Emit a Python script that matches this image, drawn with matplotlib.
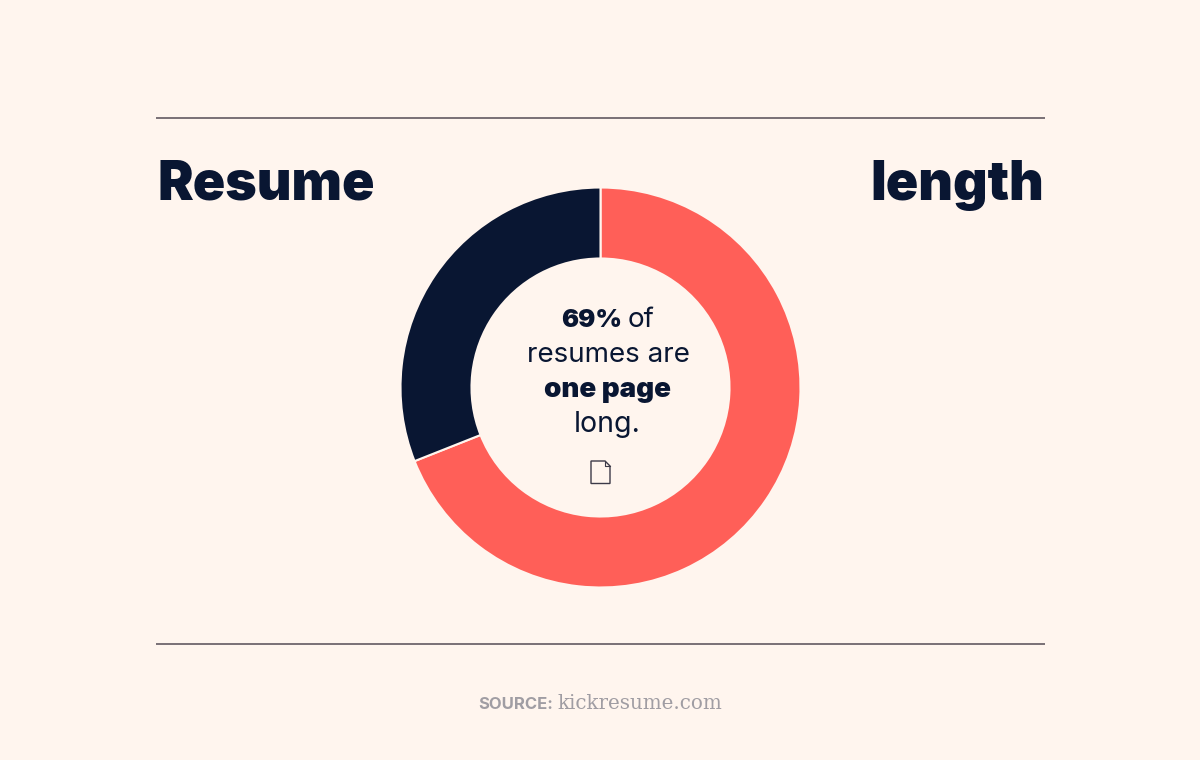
import matplotlib
matplotlib.use("Agg")
import matplotlib.pyplot as plt
from matplotlib.patches import Polygon
from matplotlib.lines import Line2D

BG = "#FFF5EE"
NAVY = "#091632"
CORAL = "#FF5F58"
GREY = "#A09DA3"

values = [69, 31]
colors = [CORAL, NAVY]
title_left = "Resume"
title_right = "length"
source_label = "SOURCE:"
source_text = "kickresume.com"

fig = plt.figure(figsize=(12, 7.6), dpi=100, facecolor=BG)
W, H = 1200, 760
ov = fig.add_axes([0, 0, 1, 1])
ov.set_xlim(0, W); ov.set_ylim(H, 0); ov.axis("off")

for y in (118, 644):
    ov.add_line(Line2D([156, 1045], [y, y], color="#6E666C", lw=1.3, solid_capstyle="butt"))

ov.text(157, 200, title_left, fontsize=38.6, fontweight=900, family="Inter", color=NAVY,
        ha="left", va="baseline")
ov.text(1044, 200, title_right, fontsize=38.6, fontweight=900, family="Inter", color=NAVY,
        ha="right", va="baseline")

size = 400
ax = fig.add_axes([(600.5 - size/2)/W, 1 - (387.5 + size/2)/H, size/W, size/H])
ax.pie(values, colors=colors, startangle=90, counterclock=False, radius=1,
       wedgeprops=dict(width=0.355, edgecolor=BG, linewidth=1.5))
ax.set_xlim(-1, 1); ax.set_ylim(-1, 1)

fs = 20
ov.text(561, 327, "69%", fontsize=18.3, fontweight=900, family="Inter", color=NAVY, va="baseline", ha="left")
ov.text(628, 327, "of", fontsize=fs, family="Inter", color=NAVY, va="baseline", ha="left")
ov.text(608, 362, "resumes are", fontsize=fs, family="Inter", color=NAVY, va="baseline", ha="center")
ov.text(608, 397, "one page", fontsize=fs, fontweight=900, family="Inter", color=NAVY, va="baseline", ha="center")
ov.text(607.5, 432, "long.", fontsize=20.5, family="Inter", color=NAVY, va="baseline", ha="center")

ov.add_patch(Polygon([[591, 461], [605, 461], [610, 466], [610, 483.5], [591, 483.5]], closed=True,
                     fc=BG, ec="#3C3A48", lw=1))
ov.add_line(Line2D([605, 605, 610], [461, 466, 466], color="#3C3A48", lw=0.8))

ov.text(478, 709, source_label, fontsize=12, fontweight="bold", family="Inter", color=GREY,
        va="baseline", ha="left")
ov.text(557, 709, source_text, fontsize=14.3, family="DejaVu Serif", color=GREY, va="baseline", ha="left")

fig.savefig("out.png", dpi=100, facecolor=BG)
